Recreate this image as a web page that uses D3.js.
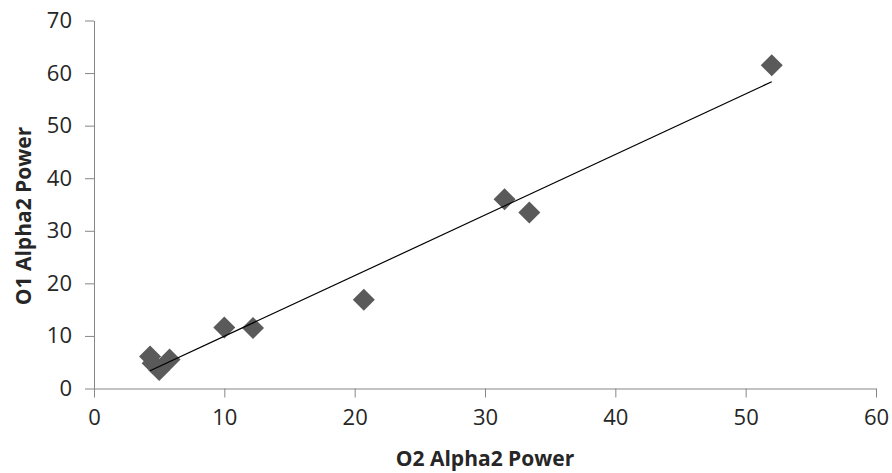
<!DOCTYPE html>
<html>
<head>
<meta charset="utf-8">
<script src="https://cdnjs.cloudflare.com/ajax/libs/d3/7.8.5/d3.min.js"></script>
<style>
  body { margin: 0; background: #fff; }
  .chart text { font-family: "Open Sans", sans-serif; fill: #262626; }
</style>
</head>
<body>
<div class="chart"></div>
<script>
var width = 892
  , height = 473
  ;

// O2 vs O1 alpha2 power
var o2Power = [4.3, 4.5, 5.0, 5.8, 10.0, 12.2, 20.7, 31.5, 33.4, 52.0];
var o1Power = [6.1, 4.8, 3.5, 5.5, 11.6, 11.5, 16.9, 36.0, 33.5, 61.5];
var xTicks = [0, 10, 20, 30, 40, 50, 60];
var yTicks = [0, 10, 20, 30, 40, 50, 60, 70];

var points = o2Power.map(function(x, i) { return {x: x, y: o1Power[i]}; });

var svg = d3.select(".chart").append("svg")
  .attr("width", width)
  .attr("height", height);

var x = d3.scaleLinear().domain([0, 60]).range([94, 876]);
var y = d3.scaleLinear().domain([0, 70]).range([388.5, 20.5]);

// axes
var xAxis = svg.append("g")
  .attr("transform", "translate(0," + y(0) + ")")
  .call(d3.axisBottom(x).tickValues(xTicks).tickSize(9).tickPadding(12).tickSizeOuter(0));
var yAxis = svg.append("g")
  .attr("transform", "translate(" + x(0) + ",0)")
  .call(d3.axisLeft(y).tickValues(yTicks).tickSize(9).tickPadding(13).tickSizeOuter(0));

[xAxis, yAxis].forEach(function(a) {
  a.attr("font-family", null).attr("font-size", null);
  a.select(".domain").attr("stroke", "#868686");
  a.selectAll(".tick line").attr("stroke", "#868686");
  a.selectAll(".tick text").style("font-size", "22px").attr("fill", "#262626");
});

// linear trendline (least squares)
var mx = d3.mean(points, function(d) { return d.x; })
  , my = d3.mean(points, function(d) { return d.y; })
  , sxy = d3.sum(points, function(d) { return (d.x - mx) * (d.y - my); })
  , sxx = d3.sum(points, function(d) { return (d.x - mx) * (d.x - mx); })
  , slope = sxy / sxx
  , icpt = my - slope * mx
  , ext = d3.extent(o2Power)
  ;

var trend = d3.line()
  .x(function(d) { return x(d.x); })
  .y(function(d) { return y(icpt + slope * d.x); });

// diamond markers
svg.append("g").selectAll("path")
  .data(points)
  .enter().append("path")
  .attr("transform", function(d) { return "translate(" + x(d.x) + "," + y(d.y) + ")"; })
  .attr("d", "M0,-11L11,0L0,11L-11,0Z")
  .attr("fill", "#5a5a5a");

svg.append("path")
  .datum(ext.map(function(v) { return {x: v}; }))
  .attr("fill", "none")
  .attr("stroke", "#000")
  .attr("stroke-width", 1.2)
  .attr("d", trend);

// axis titles
svg.append("text")
  .attr("x", 485)
  .attr("y", 466)
  .attr("text-anchor", "middle")
  .style("font-size", "21px")
  .style("font-weight", "bold")
  .text("O2 Alpha2 Power");

svg.append("text")
  .attr("transform", "translate(31,216)rotate(-90)")
  .attr("text-anchor", "middle")
  .style("font-size", "21px")
  .style("font-weight", "bold")
  .text("O1 Alpha2 Power");
</script>
</body>
</html>
